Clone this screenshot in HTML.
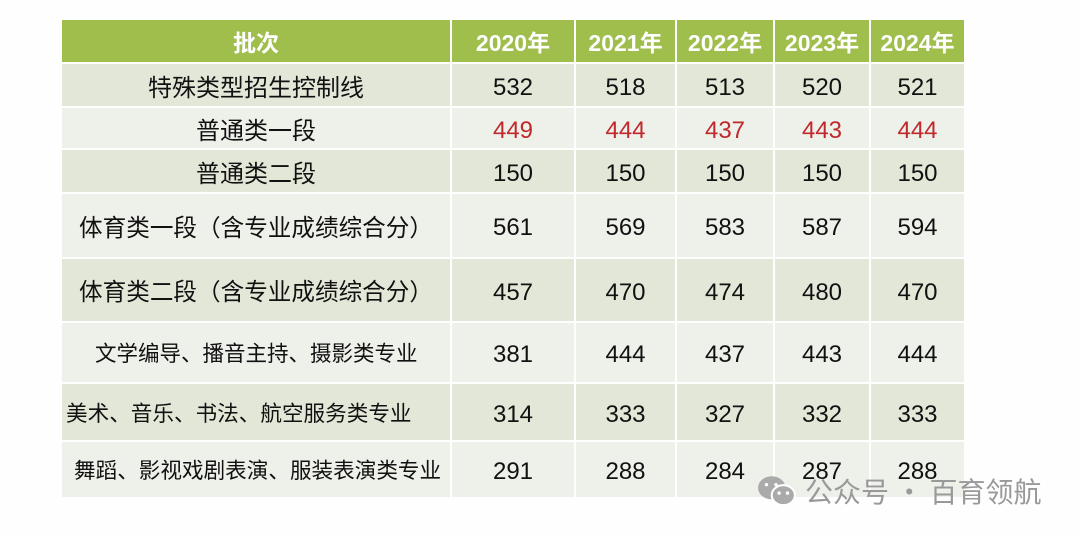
<!DOCTYPE html>
<html><head><meta charset="utf-8"><style>
body{margin:0;width:1080px;height:537px;background:#fdfefd;position:relative;overflow:hidden;font-family:"Liberation Sans","Noto Sans CJK SC",sans-serif}
.c{position:absolute;display:flex;align-items:center;justify-content:center;box-sizing:border-box;color:#111;font-size:24px;white-space:nowrap}
.n{padding-top:5px}
.h{background:#9fbe4c;color:#fff;font-weight:bold;font-size:23px}
.r{color:#c0282b}
#wm{position:absolute;left:757px;top:471px;color:#999;font-size:28px;font-family:"Noto Sans CJK SC",sans-serif;display:flex;align-items:center;gap:8px}
</style></head><body>
<div id="t"></div>
<div id="wm"><svg width="40" height="34" viewBox="0 0 38 32"><ellipse cx="14" cy="13" rx="13" ry="11" fill="#aaa"/><ellipse cx="25" cy="20" rx="11" ry="9.5" fill="#aaa" stroke="#fdfefd" stroke-width="2"/><circle cx="21" cy="18" r="1.6" fill="#fff"/><circle cx="29" cy="18" r="1.6" fill="#fff"/><circle cx="9" cy="10" r="1.6" fill="#fff"/><circle cx="18" cy="10" r="1.6" fill="#fff"/></svg><span>公众号 · 百育领航</span></div>
<script>
const years=["2020年","2021年","2022年","2023年","2024年"];
const labels=["特殊类型招生控制线","普通类一段","普通类二段","体育类一段（含专业成绩综合分）","体育类二段（含专业成绩综合分）","文学编导、播音主持、摄影类专业","美术、音乐、书法、航空服务类专业","舞蹈、影视戏剧表演、服装表演类专业"];
const row1=[532,518,513,520,521],row2=[449,444,437,443,444],row3=[150,150,150,150,150],row4=[561,569,583,587,594],row5=[457,470,474,480,470],row6=[381,444,437,443,444],row7=[314,333,327,332,333],row8=[291,288,284,287,288];
const values=[row1,row2,row3,row4,row5,row6,row7,row8];
const colX=[62,452,576,677,775,871,966];
const rowY=[20,64,108,150,194,259,323,384,442,499];
const labelSize=[24,24,24,23.6,23.6,21.5,21.6,21.6];
const labelLeft=[null,null,null,null,null,95,66,74];
const t=document.getElementById('t');
function cell(x1,x2,y1,y2,txt,cls,bg,name){
 const d=document.createElement('div');
 d.className='c '+cls;
 d.style.cssText=`left:${x1}px;top:${y1}px;width:${x2-x1-2}px;height:${y2-y1-2}px;`+(bg?`background:${bg};`:'');
 d.textContent=txt;
 
 
 t.appendChild(d);return d;
}
cell(colX[0],colX[1],rowY[0],rowY[1],'批次','h',null,'header-batch');
years.forEach((y,i)=>cell(colX[i+1],colX[i+2],rowY[0],rowY[1],y,'h',null,'header-year'));
labels.forEach((l,r)=>{
 const bg=r%2==0?'#e3e7d8':'#eef0ea';
 const lc=cell(colX[0],colX[1],rowY[r+1],rowY[r+2],l,'',bg,'row-label');
 lc.style.fontSize=labelSize[r]+'px';
 lc.style.fontFamily='"Noto Sans CJK SC",sans-serif';
 if(labelLeft[r]!==null){lc.style.justifyContent='flex-start';lc.style.paddingLeft=(labelLeft[r]-colX[0])+'px';}
 values[r].forEach((v,i)=>cell(colX[i+1],colX[i+2],rowY[r+1],rowY[r+2],String(v),'n'+(r==1?' r':''),bg,'score-cell'));
});
</script>
</body></html>
